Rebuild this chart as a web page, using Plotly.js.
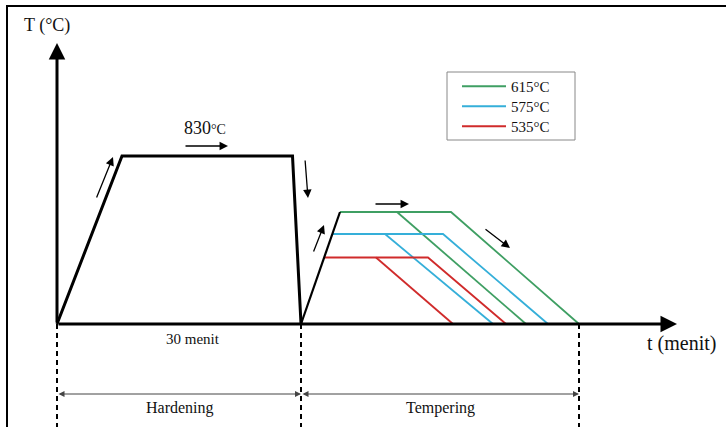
<!DOCTYPE html>
<html>
<head>
<meta charset="utf-8">
<script src="https://cdn.plot.ly/plotly-3.0.1.min.js"></script>
<style>html,body{margin:0;padding:0;background:#fff;}#chart{width:726px;height:427px;}</style>
</head>
<body>
<div id="chart"></div>
<script>
// Schematic units: x = time position, y = temperature height above the time axis
const hardeningT = [57, 122, 292.5, 301];
const hardeningY = [0, 168, 168, 0];

const rampT = [301, 340];
const rampY = [0, 112];

const temperLabels = ['615°C', '575°C', '535°C'];
const temperColors = ['#3f9f63', '#35afd9', '#d02b2b'];
const plateauY   = [112, 90, 66.5];
const plateauStart = [340, 332, 324];
const plateauEnd   = [451, 443, 428];
const innerStart   = [397, 385, 376];
const innerEnd     = [526, 493, 453];
const outerEnd     = [579, 548, 506];

const phaseBounds = [57, 301, 579];
const phaseNames = ['Hardening', 'Tempering'];

const legendIds = ['legend', 'legend2', 'legend3'];

const traces = [];
traces.push({x: hardeningT, y: hardeningY, mode: 'lines', line: {color: '#000', width: 3}, showlegend: false, hoverinfo: 'skip'});
for (let i = 0; i < temperLabels.length; i++) {
  traces.push({
    x: [plateauStart[i], plateauEnd[i], outerEnd[i]],
    y: [plateauY[i], plateauY[i], 0],
    mode: 'lines', name: temperLabels[i], legendgroup: temperLabels[i], legend: legendIds[i],
    line: {color: temperColors[i], width: 1.8}, hoverinfo: 'skip'
  });
  traces.push({
    x: [innerStart[i], innerEnd[i]], y: [plateauY[i], 0],
    mode: 'lines', legendgroup: temperLabels[i], legend: legendIds[i], showlegend: false,
    line: {color: temperColors[i], width: 1.8}, hoverinfo: 'skip'
  });
}
traces.push({x: rampT, y: rampY, mode: 'lines', line: {color: '#000', width: 2.2}, showlegend: false, hoverinfo: 'skip'});
// dashed phase boundaries
for (const b of phaseBounds) {
  traces.push({x: [b, b], y: [0, -103], mode: 'lines', line: {color: '#000', width: 2, dash: '5px,4px'}, showlegend: false, hoverinfo: 'skip'});
}

const serif = 'Liberation Serif, Times New Roman, serif';
const ann = [];
function arrow(x0, y0, x1, y1, w, head, size, color, side) {
  ann.push({x: x1, y: y1, ax: x0, ay: y0, xref: 'x', yref: 'y', axref: 'x', ayref: 'y',
    text: '', showarrow: true, arrowhead: head, arrowsize: size, arrowwidth: w,
    arrowcolor: color || '#000', arrowside: side || 'end', standoff: 0, startstandoff: 0});
}
// axes
arrow(57, 0, 57, 281, 3, 2, 1.1, '#000');
arrow(57, 0, 677, 0, 3, 2, 1.1, '#000');
// process arrows
arrow(96, 125, 113, 167, 1.3, 2, 1.3);
arrow(184, 178, 228, 178, 1.3, 2, 1.3);
arrow(305, 165, 308, 126, 1.3, 2, 1.3);
arrow(313, 71, 324, 99, 1.3, 2, 1.3);
arrow(374, 120, 409, 120, 1.3, 2, 1.3);
arrow(484, 96, 510, 76, 1.3, 2, 1.3);
// phase span arrows
arrow(phaseBounds[0], -70, phaseBounds[1], -70, 1, 2, 1.2, '#444', 'end+start');
arrow(phaseBounds[1], -70, phaseBounds[2], -70, 1, 2, 1.2, '#444', 'end+start');

function label(x, y, text, size) {
  ann.push({x: x, y: y, xref: 'x', yref: 'y', text: text, showarrow: false,
    font: {family: serif, size: size, color: '#111'}, xanchor: 'center', yanchor: 'middle'});
}
label(47, 299, 'T (°C)', 18);
label(205, 196, "830<span style='font-size:14px'>°C</span>", 18);
label(193, -15, '30 menit', 15);
label(681, -19, 't (menit)', 20);
label((phaseBounds[0] + phaseBounds[1]) / 2 + 1, -84, phaseNames[0], 16);
label((phaseBounds[1] + phaseBounds[2]) / 2, -84, phaseNames[1], 16);

function legendBox(topPx) {
  return {x: 457 / 726, y: 1 - topPx / 427, xanchor: 'left', yanchor: 'top',
    borderwidth: 0, bgcolor: 'rgba(0,0,0,0)', tracegroupgap: 0,
    font: {family: serif, size: 15, color: '#111'}, itemwidth: 44};
}

const layout = {
  width: 726, height: 427,
  margin: {l: 0, r: 0, t: 0, b: 0},
  paper_bgcolor: '#fff', plot_bgcolor: '#fff',
  xaxis: {range: [0, 726], visible: false, fixedrange: true},
  yaxis: {range: [-103, 324], visible: false, fixedrange: true},
  showlegend: true,
  legend: legendBox(70),
  legend2: legendBox(90),
  legend3: legendBox(110),
  annotations: ann,
  shapes: [
    {type: 'line', xref: 'x', yref: 'y', x0: 7, x1: 7, y0: 318, y1: -103, line: {color: '#000', width: 2}},
    {type: 'line', xref: 'x', yref: 'y', x0: 6, x1: 726, y0: 318, y1: 318, line: {color: '#000', width: 2}},
    {type: 'rect', xref: 'x', yref: 'y', x0: 447, x1: 575, y0: 324 - 72, y1: 324 - 140, line: {color: '#888', width: 1}}
  ]
};
Plotly.newPlot('chart', traces, layout, {displayModeBar: false, staticPlot: true});
</script>
</body>
</html>
